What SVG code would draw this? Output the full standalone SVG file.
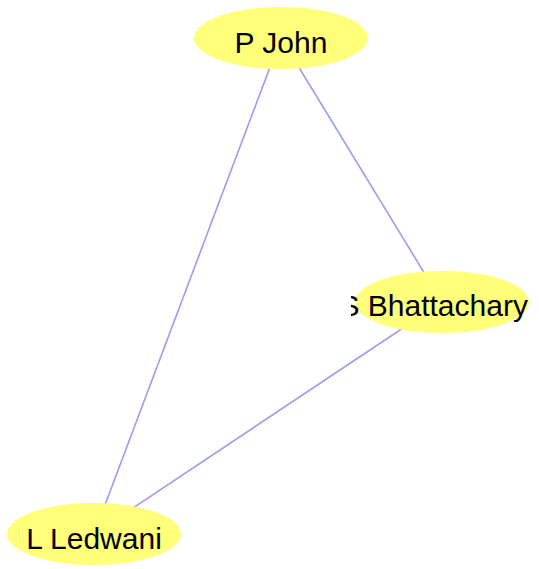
<svg xmlns="http://www.w3.org/2000/svg" width="539" height="569" viewBox="0 0 539 569">
<style>
.edge{stroke:#9c9cf0;stroke-width:1.6;fill:none}
.node ellipse{fill:#ffff7a;stroke:none}
.node text{font-family:"Liberation Sans",Arial,sans-serif;font-size:30px;fill:#000;text-anchor:middle}
</style>
<defs>
<clipPath id="cb"><rect x="351" y="265" width="178" height="75"/></clipPath>
</defs>
<rect width="539" height="569" fill="#fff"/>
<g id="edges">
<line class="edge" x1="281" y1="38" x2="94" y2="534"/>
<line class="edge" x1="281" y1="38" x2="442" y2="302"/>
<line class="edge" x1="442" y1="302" x2="94" y2="534"/>
</g>
<g id="node-pjohn" class="node">
<ellipse cx="281" cy="38" rx="87" ry="31"/>
<text x="281" y="53">P John</text>
</g>
<g id="node-sbhattacharya" class="node">
<ellipse cx="442" cy="302" rx="87" ry="31"/>
<text x="442" y="316" clip-path="url(#cb)">S Bhattacharya</text>
</g>
<g id="node-lledwani" class="node">
<ellipse cx="94" cy="534" rx="87" ry="31"/>
<text x="94" y="549">L Ledwani</text>
</g>
</svg>
